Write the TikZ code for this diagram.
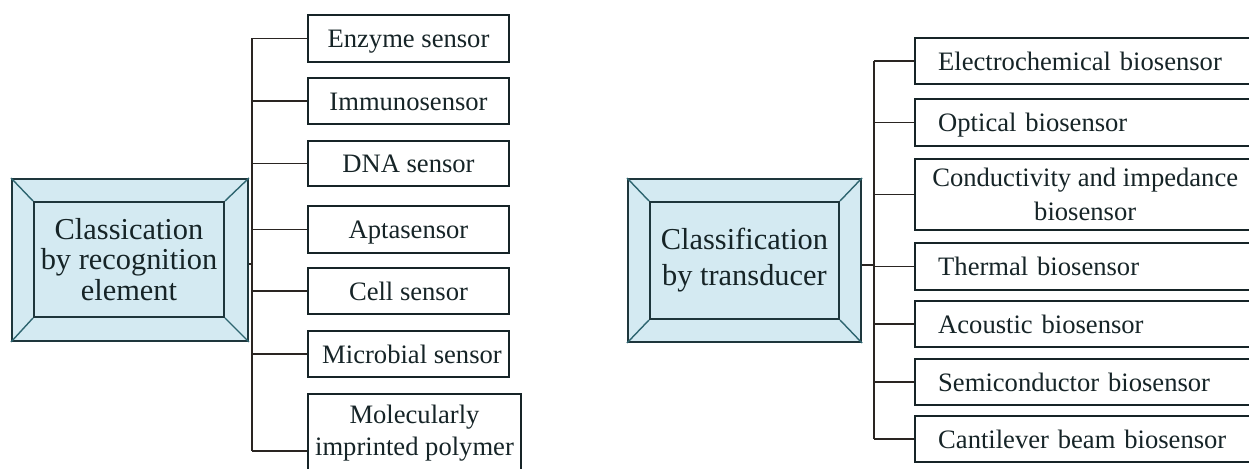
\documentclass[tikz,border=0pt]{standalone}
\usepackage{fontspec}
\setmainfont{Liberation Serif}
\definecolor{mainfill}{HTML}{D4EAF2}
\definecolor{mainedge}{HTML}{1E363C}
\definecolor{diag}{HTML}{2E6570}
\definecolor{ink}{HTML}{162427}
\definecolor{wire}{HTML}{2A2522}
\begin{document}
\begin{tikzpicture}[x=0.5pt,y=-0.5pt,
  outerbox/.style={draw=mainedge,line width=1pt,fill=mainfill,inner sep=0pt},
  innerbox/.style={draw=mainedge,line width=1pt,fill=mainfill,inner sep=0pt,align=center,text=ink},
  diagline/.style={draw=diag,line width=0.7pt},
  oneline/.style={text height=10.5pt,text depth=1pt},
  subbox/.style={draw=ink,line width=1.2pt,fill=white,inner sep=0pt,text=ink,
    font=\fontsize{13.3}{16}\selectfont,minimum width=100.5pt},
  rbox/.style={draw=ink,line width=1.2pt,fill=white,inner sep=0pt,text=ink,anchor=west,
    font=\fontsize{13.3}{17}\selectfont,minimum width=170pt},
  rleft/.style={rbox,oneline,inner xsep=11.5pt,text width=147pt,align=left},
  wireline/.style={draw=wire,line width=0.8pt}]
\useasboundingbox (0,0) rectangle (1249,469);
\clip (0,0) rectangle (1249,469);
\fill[white] (0,0) rectangle (1249,469);

% ---------- left main box ----------
\node[outerbox,minimum width=118pt,minimum height=81pt] (L) at (130,260) {};
\node[innerbox,minimum width=95pt,minimum height=57.5pt,
  font=\fontsize{15.2}{15.3}\selectfont] (Li) at (129,259.5)
  {Classication\\by recognition\\element};
\draw[diagline] (L.north west) -- (Li.north west);
\draw[diagline] (L.north east) -- (Li.north east);
\draw[diagline] (L.south west) -- (Li.south west);
\draw[diagline] (L.south east) -- (Li.south east);

% ---------- left sub boxes ----------
\node[subbox,oneline,minimum height=23.5pt] (enz) at (408.5,38.5) {Enzyme sensor};
\node[subbox,oneline,minimum height=23pt] (imm) at (408.5,101) {Immunosensor};
\node[subbox,oneline,minimum height=22.5pt] (dna) at (408.5,163.5) {DNA sensor\hspace{16.5pt}};
\node[subbox,oneline,minimum height=23.5pt] (apt) at (408.5,229.5) {Aptasensor\hspace{14.5pt}};
\node[subbox,oneline,minimum height=23pt] (cel) at (408.5,291) {Cell sensor\hspace{16.5pt}};
\node[subbox,oneline,minimum height=23pt] (mic) at (408.5,354) {\hspace{3.5pt}Microbial sensor};
\node[subbox,minimum width=106.5pt,minimum height=39pt,align=center] (mol) at (414.5,433)
  {Molecularly\\imprinted polymer};

\coordinate (tL) at (252,264);
\coordinate (mb) at ([yshift=-9pt]mol.west);
\draw[wireline] (L.east |- tL) -- (tL);
\draw[wireline] (enz.west -| tL) -- (mb -| tL);
\foreach \n in {enz,imm,dna,apt,cel,mic}
  \draw[wireline] (\n.west) -- (\n.west -| tL);
\draw[wireline] (mb) -- (mb -| tL);

% ---------- right main box ----------
\node[outerbox,minimum width=116.5pt,minimum height=81.5pt] (R) at (744.5,260.5) {};
\node[innerbox,minimum width=94.5pt,minimum height=58.5pt,
  font=\fontsize{15.2}{18}\selectfont] (Ri) at (744.5,260.5)
  {Classification\\by transducer};
\draw[diagline] (R.north west) -- (Ri.north west);
\draw[diagline] (R.north east) -- (Ri.north east);
\draw[diagline] (R.south west) -- (Ri.south west);
\draw[diagline] (R.south east) -- (Ri.south east);

% ---------- right sub boxes ----------
\node[rleft,minimum height=23pt] (ele) at (914,61) {Electrochemical biosensor};
\node[rleft,minimum height=23.5pt] (opt) at (914,122.5) {Optical biosensor};
\node[rbox,minimum height=35.5pt,align=center] (con) at (914,194.5)
  {Conductivity and impedance\\biosensor};
\node[rleft,minimum height=23.5pt] (the) at (914,266.5) {Thermal biosensor};
\node[rleft,minimum height=23pt] (aco) at (914,324) {Acoustic biosensor};
\node[rleft,minimum height=23pt] (sem) at (914,382) {Semiconductor biosensor};
\node[rleft,minimum height=23pt] (can) at (914,439) {Cantilever beam biosensor};

\coordinate (tR) at (874,265);
\draw[wireline] (R.east |- tR) -- (tR);
\draw[wireline] (ele.west -| tR) -- (can.west -| tR);
\foreach \n in {ele,opt,con,the,aco,sem,can}
  \draw[wireline] (\n.west) -- (\n.west -| tR);
\end{tikzpicture}
\end{document}
